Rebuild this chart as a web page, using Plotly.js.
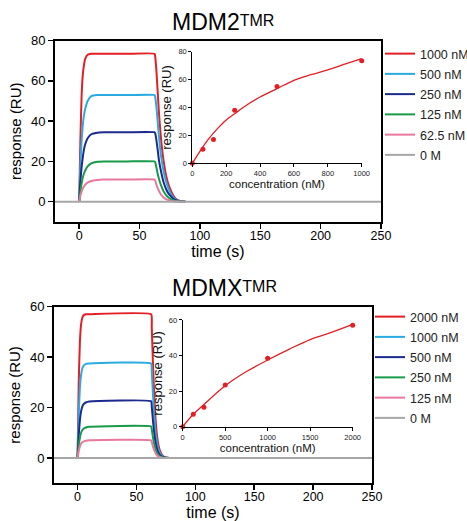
<!DOCTYPE html>
<html><head><meta charset="utf-8">
<script src="https://cdn.plot.ly/plotly-3.0.1.min.js"></script>
<style>html,body{margin:0;padding:0;background:#fff}#chart{width:467px;height:521px}</style>
</head><body><div id="chart"></div><script>
// ---------- MDM2 sensorgrams ----------
const mdm2Labels = ['1000 nM','500 nM','250 nM','125 nM','62.5 nM','0 M'];
const mdm2Time = [0,1,2,3,4,5,7,10,15,20,40,62.5,63,64,65,66,67,68,70,72,74,76,78,80,83,88];
const mdm2_1000 = [0,30,52,63,68,71,73,73.5,73.5,73.5,73.5,73.5,72,65,55,45,37,30,20,13,8.5,5.5,3,1.5,0.5,0];
const mdm2_500  = [0,18,30,38,43,46,50,52.5,53,53,53,53,52,47,40,33,27,22,15,10,6.5,4,2.2,1.1,0.4,0];
const mdm2_250  = [0,10,17,22,26,28.5,31.5,33.5,34.3,34.5,34.5,34.5,34,30.5,26,21,17.5,14.5,9.5,6.3,4,2.6,1.4,0.7,0.2,0];
const mdm2_125  = [0,5,9,12,14,15.5,17.5,19,19.8,20,20,20,19.5,17,14,11.5,9.5,7.8,5,3.3,2.1,1.3,0.7,0.3,0.1,0];
const mdm2_62   = [0,3,5,6.5,7.5,8.5,9.5,10.3,10.8,11,11,11,10.5,8.5,6.8,5.4,4.3,3.4,2.1,1.3,0.8,0.4,0.2,0.1,0,0];
const zeroTime = [-20, 250];
const zeroValues = [0, 0];

// MDM2 inset (steady-state binding)
const mdm2Conc = [0, 62.5, 125, 250, 500, 1000];
const mdm2Resp = [0, 10, 17, 38, 55, 73.5];
const mdm2FitConc = [0,50,100,150,200,250,300,400,500,600,700,800,900,1000];
const mdm2FitResp = [0,9.5,18,25,31,35.5,40,47.5,53.5,59.5,63.5,67,71,75];

// ---------- MDMX sensorgrams ----------
const mdmxLabels = ['2000 nM','1000 nM','500 nM','250 nM','125 nM','0 M'];
const mdmxTime = [0,1,2,3,4,5,7,10,62.5,63,64,65,66,67,68,69,70,72,74,78];
const mdmx_2000 = [0,30,46,53,55.5,56.5,57,57,57,52,38,26,17,11,7,4.5,2.8,1,0.3,0];
const mdmx_1000 = [0,17,28,33,35.5,36.5,37.3,37.5,37.5,34.5,25.5,17.5,11.5,7.5,4.7,3,1.9,0.7,0.2,0];
const mdmx_500  = [0,9,15,18.5,20.3,21.3,22,22.4,22.5,20.5,15,10.3,6.8,4.4,2.8,1.8,1.1,0.4,0.1,0];
const mdmx_250  = [0,5,8,10,11,11.6,12.1,12.4,12.5,11.4,8.3,5.7,3.8,2.4,1.5,1,0.6,0.2,0.05,0];
const mdmx_125  = [0,2.8,4.5,5.6,6.2,6.5,6.8,7,7,6.3,4.6,3.2,2.1,1.3,0.8,0.5,0.3,0.1,0,0];

// MDMX inset
const mdmxConc = [0, 125, 250, 500, 1000, 2000];
const mdmxResp = [0, 7, 11, 23.5, 38.5, 57];
const mdmxFitConc = [0,125,250,500,750,1000,1250,1500,1750,2000];
const mdmxFitResp = [0,7,12.5,23,31,37.5,43.5,49,53,57.5];

const colors = ['#e31e24','#29abe2','#1b2a8c','#179b48','#e8799c','#a6a6a6'];
const FONT = 'Liberation Sans, Arial, sans-serif';
const NARROW = 'Liberation Sans Narrow, Liberation Sans, Arial, sans-serif';

const traces = [];
function addSet(time, series, labels, xa, ya, leg, grp) {
  series.forEach((vals, i) => {
    traces.push({x: time, y: vals, xaxis: xa, yaxis: ya, type: 'scatter', mode: 'lines',
      name: labels[i], legend: leg, legendgroup: grp + i,
      line: {color: colors[i], width: 2, shape: 'spline', smoothing: 0.4}});
  });
  traces.push({x: zeroTime, y: zeroValues, xaxis: xa, yaxis: ya, type: 'scatter', mode: 'lines',
    name: labels[5], legend: leg, legendgroup: grp + 5, line: {color: colors[5], width: 2}});
}
addSet(mdm2Time, [mdm2_1000, mdm2_500, mdm2_250, mdm2_125, mdm2_62], mdm2Labels, 'x', 'y', 'legend', 'a');
addSet(mdmxTime, [mdmx_2000, mdmx_1000, mdmx_500, mdmx_250, mdmx_125], mdmxLabels, 'x3', 'y3', 'legend2', 'b');

traces.push({x: mdm2FitConc, y: mdm2FitResp, xaxis: 'x2', yaxis: 'y2', mode: 'lines', showlegend: false,
  line: {color: '#e31e24', width: 1.3, shape: 'spline'}, cliponaxis: false});
traces.push({x: mdm2Conc, y: mdm2Resp, xaxis: 'x2', yaxis: 'y2', mode: 'markers', showlegend: false,
  marker: {color: '#e31e24', size: 5}, cliponaxis: false});
traces.push({x: mdmxFitConc, y: mdmxFitResp, xaxis: 'x4', yaxis: 'y4', mode: 'lines', showlegend: false,
  line: {color: '#e31e24', width: 1.3, shape: 'spline'}, cliponaxis: false});
traces.push({x: mdmxConc, y: mdmxResp, xaxis: 'x4', yaxis: 'y4', mode: 'markers', showlegend: false,
  marker: {color: '#e31e24', size: 5}, cliponaxis: false});

function mainX(domain, anchor) {
  return {domain: domain, anchor: anchor, range: [-20, 250], tickvals: [0,50,100,150,200,250],
    showline: true, mirror: true, linecolor: '#000', linewidth: 2, ticks: 'outside', ticklen: 5,
    tickwidth: 1.5, tickcolor: '#000', showgrid: false, zeroline: false, automargin: false,
    ticklabelstandoff: -4,
    tickfont: {family: FONT, size: 12.5, color: '#000'},
    title: {text: 'time (s)', font: {family: FONT, size: 16, color: '#000'}, standoff: 0}};
}
function mainY(domain, anchor, range, tv) {
  return {domain: domain, anchor: anchor, range: range, tickvals: tv,
    showline: true, mirror: true, linecolor: '#000', linewidth: 2, ticks: 'outside', ticklen: 5,
    tickwidth: 1.5, tickcolor: '#000', showgrid: false, zeroline: false, automargin: false,
    tickfont: {family: FONT, size: 13, color: '#000'},
    title: {text: 'response (RU)', font: {family: FONT, size: 15, color: '#000'}, standoff: 6}};
}
function insetX(domain, anchor, range, tv) {
  return {domain: domain, anchor: anchor, range: range, tickvals: tv,
    showline: true, linecolor: '#000', linewidth: 1, ticks: 'outside', ticklen: 3, tickwidth: 1,
    tickcolor: '#000', showgrid: false, zeroline: false, automargin: false,
    tickfont: {family: NARROW, size: 7.5, color: '#222'},
    title: {text: 'concentration (nM)', font: {family: FONT, size: 11.5, color: '#111'}, standoff: 2}};
}
function insetY(domain, anchor, range, tv) {
  return {domain: domain, anchor: anchor, range: range, tickvals: tv,
    showline: true, linecolor: '#000', linewidth: 1, ticks: 'outside', ticklen: 3, tickwidth: 1,
    tickcolor: '#000', showgrid: false, zeroline: false, automargin: false,
    tickfont: {family: NARROW, size: 7.5, color: '#222'},
    title: {text: 'response (RU)', font: {family: FONT, size: 13, color: '#111'}, standoff: 3}};
}

const legendCommon = {font: {family: FONT, size: 12.5, color: '#222'}, bgcolor: 'rgba(0,0,0,0)',
  borderwidth: 0, tracegroupgap: 1.0, xanchor: 'left', yanchor: 'top', itemclick: false};

const layout = {
  width: 467, height: 521, margin: {l: 0, r: 0, t: 0, b: 0, autoexpand: false},
  paper_bgcolor: '#fff', plot_bgcolor: 'rgba(0,0,0,0)',
  xaxis: mainX([0.1178, 0.8158], 'y'),
  yaxis: mainY([0.5743, 0.9219], 'x', [-10, 80], [0,20,40,60,80]),
  xaxis2: insetX([0.4118, 0.7745], 'y2', [0, 1000], [0,200,400,600,800,1000]),
  yaxis2: insetY([0.6866, 0.9008], 'x2', [0, 80], [0,20,40,60,80]),
  xaxis3: mainX([0.1156, 0.7966], 'y3'),
  yaxis3: mainY([0.0726, 0.4113], 'x3', [-10, 60], [0,20,40,60]),
  xaxis4: insetX([0.3912, 0.7552], 'y4', [0, 2000], [0,500,1000,1500,2000]),
  yaxis4: insetY([0.1810, 0.3858], 'x4', [0, 60], [0,20,40,60]),
  legend: Object.assign({x: 380/467, y: 1 - 39/521}, legendCommon),
  legend2: Object.assign({x: 370/467, y: 1 - 302/521}, legendCommon),
  annotations: [
    {text: 'MDM2<span style="font-size:16px;baseline-shift:4px">TMR</span>', xref: 'paper', yref: 'paper', x: 223/467, y: 1 - 22/521,
     showarrow: false, xanchor: 'center', yanchor: 'middle', font: {family: FONT, size: 23, color: '#000'}},
    {text: 'MDMX<span style="font-size:16px;baseline-shift:4px">TMR</span>', xref: 'paper', yref: 'paper', x: 224/467, y: 1 - 288/521,
     showarrow: false, xanchor: 'center', yanchor: 'middle', font: {family: FONT, size: 23, color: '#000'}}
  ],
  showlegend: true
};

Plotly.newPlot('chart', traces, layout, {displayModeBar: false, staticPlot: true});
</script></body></html>
